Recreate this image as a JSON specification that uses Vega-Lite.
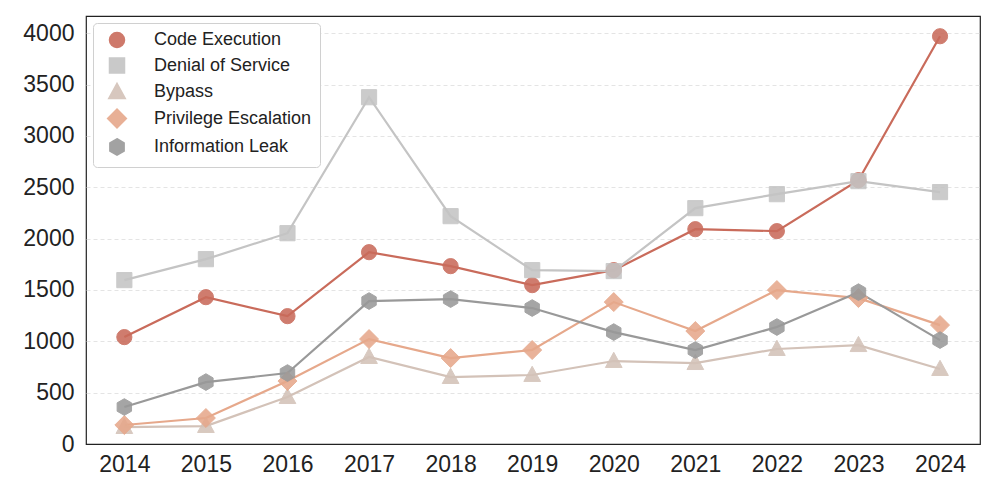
{
  "$schema": "https://vega.github.io/schema/vega-lite/v6.json",
  "width": 894,
  "height": 428,
  "autosize": "none",
  "padding": {"left": 86, "top": 16, "right": 17, "bottom": 54},
  "background": "white",
  "config": {
    "view": {"stroke": "#222222", "strokeWidth": 1.2},
    "font": "Liberation Sans",
    "axis": {"labelFont": "Liberation Sans", "labelColor": "#222222", "labelFontSize": 23, "ticks": false, "domain": false, "title": null}
  },
  "data": {
    "values": [
      {"year": 2014, "type": "Code Execution", "value": 1041},
      {"year": 2015, "type": "Code Execution", "value": 1430},
      {"year": 2016, "type": "Code Execution", "value": 1245},
      {"year": 2017, "type": "Code Execution", "value": 1868},
      {"year": 2018, "type": "Code Execution", "value": 1732},
      {"year": 2019, "type": "Code Execution", "value": 1547},
      {"year": 2020, "type": "Code Execution", "value": 1693},
      {"year": 2021, "type": "Code Execution", "value": 2092},
      {"year": 2022, "type": "Code Execution", "value": 2073},
      {"year": 2023, "type": "Code Execution", "value": 2569},
      {"year": 2024, "type": "Code Execution", "value": 3971},
      {"year": 2014, "type": "Denial of Service", "value": 1596},
      {"year": 2015, "type": "Denial of Service", "value": 1800},
      {"year": 2016, "type": "Denial of Service", "value": 2053},
      {"year": 2017, "type": "Denial of Service", "value": 3377},
      {"year": 2018, "type": "Denial of Service", "value": 2219},
      {"year": 2019, "type": "Denial of Service", "value": 1693},
      {"year": 2020, "type": "Denial of Service", "value": 1684},
      {"year": 2021, "type": "Denial of Service", "value": 2297},
      {"year": 2022, "type": "Denial of Service", "value": 2433},
      {"year": 2023, "type": "Denial of Service", "value": 2560},
      {"year": 2024, "type": "Denial of Service", "value": 2453},
      {"year": 2014, "type": "Bypass", "value": 165},
      {"year": 2015, "type": "Bypass", "value": 175},
      {"year": 2016, "type": "Bypass", "value": 457},
      {"year": 2017, "type": "Bypass", "value": 847},
      {"year": 2018, "type": "Bypass", "value": 652},
      {"year": 2019, "type": "Bypass", "value": 672},
      {"year": 2020, "type": "Bypass", "value": 808},
      {"year": 2021, "type": "Bypass", "value": 788},
      {"year": 2022, "type": "Bypass", "value": 925},
      {"year": 2023, "type": "Bypass", "value": 963},
      {"year": 2024, "type": "Bypass", "value": 730},
      {"year": 2014, "type": "Privilege Escalation", "value": 185},
      {"year": 2015, "type": "Privilege Escalation", "value": 253},
      {"year": 2016, "type": "Privilege Escalation", "value": 613},
      {"year": 2017, "type": "Privilege Escalation", "value": 1022},
      {"year": 2018, "type": "Privilege Escalation", "value": 837},
      {"year": 2019, "type": "Privilege Escalation", "value": 915},
      {"year": 2020, "type": "Privilege Escalation", "value": 1382},
      {"year": 2021, "type": "Privilege Escalation", "value": 1100},
      {"year": 2022, "type": "Privilege Escalation", "value": 1499},
      {"year": 2023, "type": "Privilege Escalation", "value": 1421},
      {"year": 2024, "type": "Privilege Escalation", "value": 1158},
      {"year": 2014, "type": "Information Leak", "value": 360},
      {"year": 2015, "type": "Information Leak", "value": 603},
      {"year": 2016, "type": "Information Leak", "value": 691},
      {"year": 2017, "type": "Information Leak", "value": 1392},
      {"year": 2018, "type": "Information Leak", "value": 1411},
      {"year": 2019, "type": "Information Leak", "value": 1324},
      {"year": 2020, "type": "Information Leak", "value": 1090},
      {"year": 2021, "type": "Information Leak", "value": 915},
      {"year": 2022, "type": "Information Leak", "value": 1139},
      {"year": 2023, "type": "Information Leak", "value": 1479},
      {"year": 2024, "type": "Information Leak", "value": 1012}
    ]
  },
  "encoding": {
    "x": {
      "field": "year", "type": "quantitative",
      "scale": {"domain": [2013.53, 2024.49], "nice": false, "zero": false},
      "axis": {"values": [2014, 2015, 2016, 2017, 2018, 2019, 2020, 2021, 2022, 2023, 2024], "format": "d", "grid": false, "labelPadding": 9}
    },
    "y": {
      "field": "value", "type": "quantitative",
      "scale": {"domain": [0, 4168], "nice": false},
      "axis": {"values": [0, 500, 1000, 1500, 2000, 2500, 3000, 3500, 4000], "format": "d", "grid": true, "gridColor": {"condition": {"test": "datum.value === 0", "value": "transparent"}, "value": "#dddddd"}, "gridDash": [4, 3], "gridWidth": 0.8, "labelPadding": 12}
    },
    "color": {
      "field": "type", "type": "nominal",
      "scale": {
        "domain": ["Code Execution", "Denial of Service", "Bypass", "Privilege Escalation", "Information Leak"],
        "range": ["#c96b5b", "#c4c4c4", "#d3c2b8", "#e6a88b", "#999999"]
      },
      "legend": {
        "title": null,
        "orient": "top-left",
        "offset": 7,
        "padding": 8,
        "fillColor": "white",
        "strokeColor": "#d0d0d0",
        "cornerRadius": 4,
        "labelFont": "Liberation Sans",
        "labelFontSize": 18,
        "labelColor": "#222222",
        "symbolOffset": 7,
        "labelOffset": 28,
        "symbolSize": 225,
        "rowPadding": 3.5,
        "symbolOpacity": 0.9
      }
    }
  },
  "layer": [
    {
      "mark": {"type": "line", "strokeWidth": 2.2}
    },
    {
      "mark": {"type": "point", "filled": true, "size": 230, "opacity": 0.88, "strokeWidth": 1},
      "encoding": {
        "shape": {
          "field": "type", "type": "nominal",
          "scale": {
            "domain": ["Code Execution", "Denial of Service", "Bypass", "Privilege Escalation", "Information Leak"],
            "range": [
              "circle",
              "square",
              "M0,-1.15L1.1,0.85L-1.1,0.85Z",
              "M0,-1.25L1.25,0L0,1.25L-1.25,0Z",
              "M0,-1.1L0.95,-0.55L0.95,0.55L0,1.1L-0.95,0.55L-0.95,-0.55Z"
            ]
          },
          "legend": null
        },
        "stroke": {
          "field": "type", "type": "nominal", "legend": null,
          "scale": {
            "domain": ["Code Execution", "Denial of Service", "Bypass", "Privilege Escalation", "Information Leak"],
            "range": ["#c96b5b", "#c4c4c4", "#d3c2b8", "#e6a88b", "#999999"]
          }
        }
      }
    }
  ]
}
